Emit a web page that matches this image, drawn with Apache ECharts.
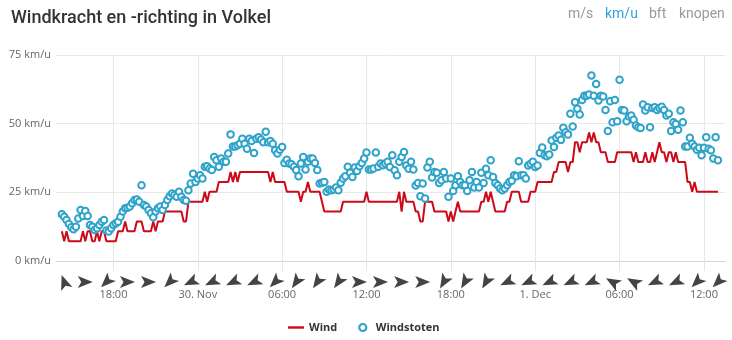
<!DOCTYPE html>
<html><head><meta charset="utf-8">
<script src="https://cdn.jsdelivr.net/npm/echarts@6/dist/echarts.min.js"></script>
<style>html,body{margin:0;padding:0;background:#fff}#c{width:732px;height:340px}</style>
</head><body><div id="c"></div>
<script>
// time: hours since 29 Nov 00:00; samples every 10 minutes starting 29 Nov 14:20
const startHour = 14 + 20 / 60;
const stepHours = 10 / 60;

// Wind (km/u)
const wind = [
10.8,7.2,10.8,7.2,7.2,7.2,7.2,7.2,7.2,10.8,
7.2,10.8,10.8,7.2,7.2,10.8,7.2,10.8,10.8,7.2,
7.2,7.2,7.2,7.2,10.8,10.8,10.8,14.4,10.8,10.8,
10.8,10.8,14.4,14.4,14.4,10.8,10.8,10.8,10.8,14.4,
10.8,14.4,14.4,14.4,18,18,18,18,18,18,
18,18,14.4,14.4,21.6,21.6,21.6,21.6,21.6,21.6,
21.6,25.2,21.6,25.2,25.2,25.2,25.2,28.8,28.8,28.8,
28.8,28.8,32.4,28.8,32.4,28.8,32.4,32.4,32.4,32.4,
32.4,32.4,32.4,32.4,32.4,32.4,32.4,32.4,32.4,28.8,
32.4,28.8,28.8,28.8,28.8,28.8,25.2,25.2,25.2,25.2,
25.2,25.2,21.6,25.2,25.2,28.8,25.2,25.2,25.2,25.2,
25.2,21.6,18,18,18,18,18,18,18,18,
21.6,21.6,21.6,21.6,21.6,21.6,21.6,21.6,21.6,21.6,
25.2,21.6,21.6,21.6,21.6,21.6,21.6,21.6,21.6,21.6,
21.6,21.6,21.6,21.6,25.2,18,25.2,21.6,21.6,21.6,
21.6,18,18,14.4,14.4,21.6,21.6,21.6,21.6,18,
18,18,18,18,18,14.4,18,14.4,18,21.6,
18,18,18,18,18,18,18,18,18,21.6,
21.6,25.2,21.6,25.2,21.6,18,18,18,18,18,
21.6,21.6,25.2,25.2,25.2,25.2,21.6,21.6,21.6,21.6,
25.2,25.2,25.2,28.8,28.8,28.8,28.8,28.8,28.8,28.8,
32.4,32.4,36,36,36,36,32.4,36,36,43.2,
43.2,39.6,43.2,43.2,43.2,46.8,43.2,46.8,43.2,43.2,
39.6,39.6,39.6,36,36,36,36,39.6,39.6,39.6,
39.6,39.6,39.6,39.6,36,39.6,36,36,36,39.6,
36,36,39.6,36,39.6,43.2,39.6,39.6,36,39.6,
39.6,36,39.6,36,36,36,36,28.8,28.8,25.2,
28.8,25.2,25.2,25.2,25.2,25.2,25.2,25.2,25.2,25.2,
25.2
];

// Windstoten (km/u)
const gusts = [
17.0,16.1,14.9,13.5,12.3,11.6,12.5,15.5,18.6,16.4,
18.2,16.4,13.1,12.5,11.3,11.9,13.1,14.3,14.9,11.1,
10.7,11.9,13.1,13.7,14.3,16.1,18.0,19.2,19.4,19.8,
21.0,22.2,22.4,21.6,27.6,20.4,19.8,18.6,17.4,15.9,
18.0,19.2,19.8,18.6,20.4,22.2,23.6,24.6,24.0,23.4,
25.2,23.4,22.2,21.9,25.8,28.2,31.8,28.8,30.0,31.2,
30.0,34.3,34.5,33.7,33.1,37.9,36.7,34.3,37.3,36.1,
36.1,39.1,46.1,41.7,41.7,42.1,42.7,44.5,42.7,40.9,
44.5,43.7,39.3,44.5,45.1,44.2,43.2,47.1,43.2,43.7,
42.7,40.3,39.1,40.5,41.5,35.7,36.9,35.5,35.2,34.3,
33.1,30.9,35.5,37.9,33.3,36.1,37.3,37.3,35.7,33.1,
28.2,28.5,28.8,25.2,26.0,25.8,26.0,26.8,25.8,28.5,
30.0,30.9,34.3,32.1,30.6,34.0,32.8,34.5,35.7,37.3,
39.5,33.3,33.3,33.7,39.5,34.3,35.5,34.9,35.5,
36.1,34.2,38.5,33.0,31.2,36.1,37.9,39.7,34.8,33.6,
36.1,33.3,27.5,28.4,23.6,28.2,22.8,34.0,36.1,30.4,
32.4,32.1,28.4,29.4,32.4,30.0,23.4,30.0,25.5,27.6,
30.9,28.8,27.6,27.6,25.5,29.4,32.4,26.8,28.8,26.8,
32.1,28.4,33.6,31.2,36.7,30.6,28.4,27.6,26.4,25.8,
26.4,27.6,28.8,29.2,31.2,30.9,36.3,31.2,31.2,30.0,
34.8,35.4,36.1,34.2,34.8,39.3,41.3,38.5,38.1,38.8,
43.9,41.5,44.9,45.7,44.1,48.5,46.9,46.1,53.6,49.0,
57.8,55.4,53.3,58.6,60.2,60.2,60.6,67.5,60.2,64.4,
58.4,60.2,59.9,55.0,47.3,58.2,50.5,58.6,50.9,66.0,
55.0,54.8,50.9,52.6,53.0,51.4,49.3,48.7,48.4,57.0,
54.8,56.0,48.7,55.7,56.0,55.0,55.7,56.2,55.0,53.0,
53.6,47.3,50.5,49.9,47.8,54.8,50.5,41.7,41.7,44.9,
42.7,41.7,40.5,41.2,38.5,41.2,45.1,40.9,40.3,37.3,
45.1,36.7
];

// Wind direction (degrees the wind comes from), one arrow every 1.5 h from 29 Nov 14:30
const arrowFirstIndex = 1;
const arrowEvery = 9;
const windFrom = [160,270,45,270,270,45,65,65,65,65,45,35,35,35,270,270,
                  270,270,30,30,30,65,65,65,65,65,120,120,65,65,45,45];

const yTicks = [0, 25, 50, 75];
const xTickHours = [18, 24, 30, 36, 42, 48, 54, 60];
const xTickLabels = ['18:00', '30. Nov', '06:00', '12:00', '18:00', '1. Dec', '06:00', '12:00'];
const unitButtons = ['m/s', 'km/u', 'bft', 'knopen'];
const activeUnit = 'km/u';

const xMin = 13 + 55 / 60, xMax = 61.5;
const chart = echarts.init(document.getElementById('c'), null, {renderer: 'canvas'});

const btnX = [568, 605, 649, 679];
const option = {
  animation: false,
  backgroundColor: '#fff',
  title: {
    text: 'Windkracht en -richting in Volkel', left: 6, top: 4,
    textStyle: {fontFamily: 'Roboto', fontWeight: 500, fontSize: 18, color: '#333'}
  },
  graphic: unitButtons.map((t, k) => ({
    type: 'text', left: btnX[k], top: 7,
    style: {text: t, font: '14px Roboto', fill: t === activeUnit ? '#2ea3e6' : '#9a9a9a'}
  })),
  legend: {
    left: 288, top: 322, padding: 0, itemWidth: 16, itemHeight: 7, itemGap: 21,
    textStyle: {fontFamily: 'Open Sans', fontWeight: 'bold', fontSize: 11, color: '#333'},
    data: [
      {name: 'Wind', icon: 'path://M0,0 M0,2.3 L16,2.3 L16,4.7 L0,4.7 Z M16,7', itemStyle: {color: '#cc0a1a'}},
      {name: 'Windstoten', icon: 'circle', itemStyle: {color: '#fff', borderColor: '#2fa3c9', borderWidth: 2.2}}
    ]
  },
  grid: [
    {left: 56, right: 7, top: 55, height: 206},
    {left: 56, right: 7, top: 274, height: 16}
  ],
  xAxis: [
    {
      type: 'value', gridIndex: 0, min: xMin, max: xMax,
      axisLine: {show: true, lineStyle: {color: '#ccd6eb'}},
      axisTick: {show: true, length: 10, customValues: xTickHours, lineStyle: {color: '#e3e6ec'}},
      axisLabel: {
        customValues: xTickHours, margin: 28, color: '#666', fontFamily: 'Open Sans', fontSize: 11,
        formatter: v => { const k = xTickHours.indexOf(Math.round(v)); return k >= 0 ? xTickLabels[k] : ''; }
      },
      splitLine: {show: true, lineStyle: {color: '#e8e8e8'}}
    },
    {type: 'value', gridIndex: 1, min: xMin, max: xMax, show: false}
  ],
  yAxis: [
    {
      type: 'value', gridIndex: 0, min: yTicks[0], max: yTicks[yTicks.length - 1], interval: 25,
      axisLine: {show: false}, axisTick: {show: false},
      axisLabel: {formatter: '{value} km/u', margin: 5, color: '#666', fontFamily: 'Open Sans', fontSize: 11},
      splitLine: {lineStyle: {color: '#e8e8e8'}}
    },
    {type: 'value', gridIndex: 1, min: 0, max: 1, show: false}
  ],
  series: [
    {
      type: 'line', name: 'Wind', xAxisIndex: 0, yAxisIndex: 0,
      data: wind.map((v, i) => [startHour + i * stepHours, v]),
      symbol: 'none', showSymbol: false,
      lineStyle: {color: '#cc0a1a', width: 2}, itemStyle: {color: '#cc0a1a'}, z: 2
    },
    {
      type: 'scatter', name: 'Windstoten', xAxisIndex: 0, yAxisIndex: 0,
      data: gusts.map((v, i) => [startHour + i * stepHours, v]),
      symbol: 'circle', symbolSize: 6.5,
      itemStyle: {color: '#fff', borderColor: '#2fa3c9', borderWidth: 2, opacity: 1}, z: 3
    },
    {
      type: 'scatter', name: 'richting', xAxisIndex: 1, yAxisIndex: 1, silent: true,
      data: windFrom.map((d, k) => ({
        value: [startHour + (arrowFirstIndex + arrowEvery * k) * stepHours, 0.5],
        symbolRotate: -(d + 90)
      })),
      symbol: 'path://M0,0 L15,6 L0,12 L3.5,6 Z', symbolSize: [15, 12],
      itemStyle: {color: '#151515'}
    }
  ]
};
chart.setOption(option);
</script>
</body></html>
